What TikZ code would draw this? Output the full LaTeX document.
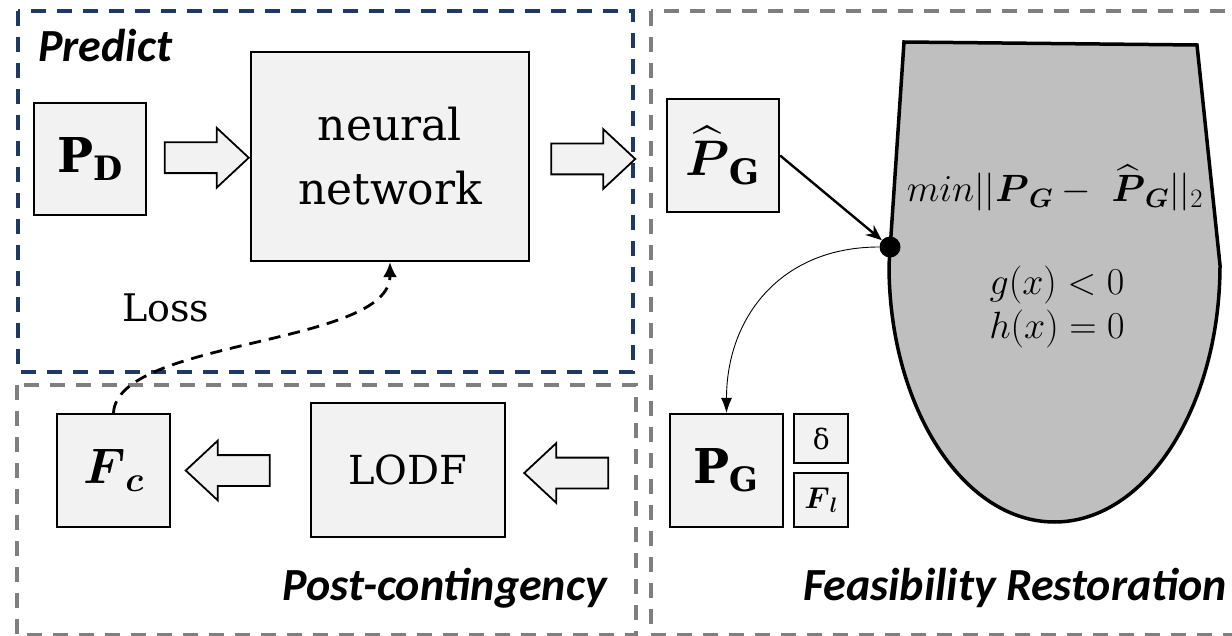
\RequirePackage{fix-cm}
\documentclass[tikz,border=0pt]{standalone}
\usepackage{amsmath}
\usepackage{amssymb}
\usepackage{fontspec}
\setmainfont{DejaVu Serif}
\newfontfamily\labelfont{Carlito}
\usepackage{tikz}
\usetikzlibrary{shapes}
\usetikzlibrary{arrows.meta}
\usetikzlibrary{calc}
\usetikzlibrary{positioning}

\definecolor{framenavy}{HTML}{1F3864}
\definecolor{framegray}{HTML}{7F7F7F}
\definecolor{boxgray}{HTML}{F2F2F2}
\definecolor{regiongray}{HTML}{BFBFBF}

\begin{document}
\begin{tikzpicture}[
		x=1pt,
		y=1pt,
		>=Latex,
	]
		\tikzset{box/.style={
			draw,
			fill=boxgray,
			line width=2.2,
			inner sep=0,
			text centered,
		}}
		\tikzset{blockarrow/.style={
			single arrow,
			draw,
			fill=boxgray,
			line width=1.8,
			inner xsep=0,
			inner ysep=14.5,
			minimum height=84,
			single arrow head extend=14.5,
			single arrow tip angle=86,
		}}
		\tikzset{frame/.style={
			dash pattern=on 15 off 11,
			line width=3.2,
		}}
		\tikzset{tag/.style={
			font=\labelfont\bfseries\itshape\fontsize{46pt}{50pt}\selectfont,
			inner sep=0,
		}}

		\useasboundingbox (0,0) rectangle (1232,-636);

		%---------------------------------
		% Frames
		\draw[frame, framegray] (651,-11) rectangle (1250,-635);
		\draw[frame, framegray] (17,-385) rectangle (636,-635);
		\draw[frame, framenavy] (18,-11) rectangle (633,-372);

		%---------------------------------
		% Predict
		\node[tag, anchor=base west] (predict) at (38,-62) {Predict};
		\node[
			box,
			minimum width=112,
			minimum height=112,
			font=\fontsize{48pt}{54pt}\selectfont,
		] (pd) at (90,-159) {$\mathbf{P}_{\mathbf{D}}$};
		\node[
			box,
			minimum width=278,
			minimum height=209,
			align=center,
			font=\fontsize{44pt}{64pt}\selectfont,
		] (nn) at (390,-156.5) {neural\\network};
		\node[blockarrow] (arrpd) at ($(pd.east)!0.5!(nn.west)$) {};
		\node[blockarrow] (arrnn) at (585,-159) {};
		\node[
			anchor=base west,
			inner sep=0,
			font=\fontsize{38pt}{44pt}\selectfont,
		] (loss) at (122,-322) {Loss};

		%---------------------------------
		% Post-contingency
		\node[
			box,
			minimum width=113,
			minimum height=113,
			font=\fontsize{50pt}{56pt}\selectfont,
		] (fc) at (113.5,-470.5) {$\boldsymbol{F}_{\boldsymbol{c}}$};
		\node[
			box,
			minimum width=194,
			minimum height=134,
			font=\fontsize{40pt}{48pt}\selectfont,
		] (lodf) at (408,-470) {LODF};
		\node[blockarrow, shape border rotate=180] (arrlodf) at (236,-470.5) {};
		\node[blockarrow, shape border rotate=180] (arrpg) at (574.5,-473) {};
		\node[tag, anchor=base east] (postc) at (607,-600) {Post-contingency};

		\draw[
			->,
			>={Latex[length=15,width=14]},
			line width=2.8,
			dash pattern=on 12 off 8,
		] (fc.north) .. controls +(4,74) and +(0,-84) .. (nn.south);

		%---------------------------------
		% Feasibility restoration
		\node[
			box,
			minimum width=112,
			minimum height=113,
			font=\fontsize{50pt}{56pt}\selectfont,
		] (hatpg) at (723,-155.5) {$\widehat{\boldsymbol{P}}_{\mathbf{G}}$};

		\draw[fill=regiongray, line width=3.5] (904,-42) -- (1197,-45) -- (1220,-265)
			arc[start angle=0, end angle=-180, x radius=165.5, y radius=257] -- cycle;

		\node[circle, fill=black, inner sep=0, minimum size=21] (dot) at (890,-247) {};

		\node[
			inner sep=0,
			font=\fontsize{38pt}{44pt}\selectfont,
		] (objective) at (1055,-188) {$min||\boldsymbol{P}_{\boldsymbol{G}} -\ \widehat{\boldsymbol{P}}_{\boldsymbol{G}}||_2$};
		\node[
			inner sep=0,
			align=center,
			font=\fontsize{38pt}{44pt}\selectfont,
		] (constraints) at (1057,-307) {$g(x) < 0$\\$h(x) = 0$};

		\node[
			box,
			minimum width=113,
			minimum height=113,
			font=\fontsize{48pt}{54pt}\selectfont,
		] (pg) at (726.5,-470.5) {$\mathbf{P}_{\mathbf{G}}$};
		\node[
			box,
			anchor=north west,
			xshift=9,
			minimum width=54,
			minimum height=49,
			font=\fontsize{28pt}{34pt}\selectfont,
		] (delta) at (pg.north east) {δ};
		\node[
			box,
			anchor=south west,
			xshift=9,
			minimum width=54,
			minimum height=54,
			font=\fontsize{30pt}{34pt}\selectfont,
		] (fl) at (pg.south east) {$\boldsymbol{F}_{\boldsymbol{l}}$};
		\node[tag, anchor=base west] (feas) at (803,-600) {Feasibility Restoration};

		\draw[-{Stealth[length=16,width=13]}, line width=2.4] (hatpg.east) -- (dot);
		\draw[-{Latex[length=15,width=11]}, line width=0.9] (dot.west) .. controls +(-100,0) and +(0,94) .. (pg.north);
	\end{tikzpicture}
\end{document}
